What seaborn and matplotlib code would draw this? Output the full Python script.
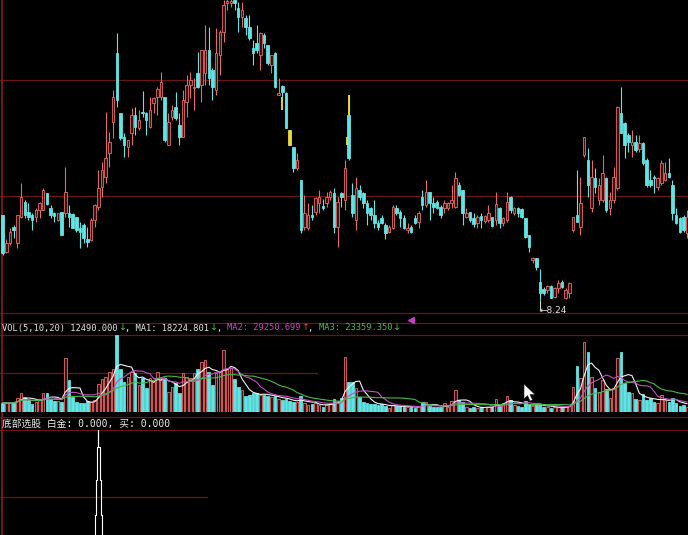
import numpy as np
import pandas as pd
import matplotlib
matplotlib.use("Agg")
import matplotlib.pyplot as plt
from matplotlib.lines import Line2D
from matplotlib.patches import Polygon
import seaborn as sns

# ---------------- data ----------------
open_ = [9.09, 8.72, 8.81, 8.97, 8.81, 9.07, 9.22, 9.12, 9.09, 9.07,
         9.14, 9.14, 9.31, 9.16, 9.11, 9.04, 9.12, 9.11, 9.11, 9.10,
         9.07, 8.96, 8.99, 8.85, 8.84, 9.04, 9.17, 9.37, 9.47, 9.71,
         10.02, 10.71, 10.11, 9.87, 9.77, 9.91, 10.09, 9.96, 10.12, 10.11,
         9.97, 10.21, 10.27, 10.27, 10.27, 9.79, 10.07, 10.17, 9.99, 9.87,
         10.22, 10.39, 10.36, 10.51, 10.39, 10.51, 10.74, 10.54, 10.34, 10.69,
         10.92, 11.21, 11.21, 11.24, 11.16, 11.07, 11.06, 10.97, 10.76, 10.81,
         10.69, 10.89, 10.79, 10.59, 10.71, 10.29, 10.38, 10.31, 9.94, 9.77,
         9.56, 9.44, 8.97, 8.96, 9.09, 9.12, 9.21, 9.18, 9.21, 9.27,
         9.31, 8.97, 9.31, 9.24, 10.09, 9.29, 9.04, 9.34, 9.31, 9.21,
         9.16, 9.09, 9.01, 9.06, 8.99, 8.92, 8.96, 9.16, 9.12, 9.06,
         8.94, 8.97, 9.06, 9.02, 9.27, 9.19, 9.32, 9.21, 9.22, 9.17,
         9.16, 9.16, 9.21, 9.17, 9.39, 9.34, 9.07, 9.12, 9.06, 9.01,
         9.08, 9.03, 9.04, 9.07, 9.04, 9.16, 9.01, 9.04, 9.27, 9.11,
         9.16, 9.15, 9.06, 8.89, 8.64, 8.66, 8.42, 8.35, 8.34, 8.38,
         8.27, 8.36, 8.42, 8.26, 8.31, 8.94, 9.09, 8.97, 9.69, 9.64,
         9.16, 9.46, 9.24, 9.24, 9.46, 9.16, 9.24, 9.36, 10.11, 10.01,
         9.89, 9.79, 9.82, 9.75, 9.81, 9.64, 9.44, 9.47, 9.37, 9.41,
         9.44, 9.51, 9.39, 9.09, 9.06, 9.07, 8.91]
close = [8.71, 8.81, 8.92, 8.94, 9.09, 9.27, 9.09, 9.07, 9.04, 9.14,
         9.21, 9.34, 9.20, 9.09, 9.08, 9.11, 8.89, 9.32, 9.07, 8.96,
         8.94, 8.92, 8.86, 8.82, 9.04, 9.19, 9.36, 9.54, 9.66, 9.82,
         10.27, 10.24, 9.86, 9.79, 9.84, 10.09, 9.97, 10.04, 10.11, 10.04,
         10.14, 10.26, 10.35, 10.42, 9.84, 10.02, 10.14, 10.06, 9.87, 10.24,
         10.39, 10.44, 10.37, 10.37, 10.74, 10.74, 10.46, 10.37, 10.71, 10.92,
         11.19, 11.23, 11.23, 11.21, 11.07, 11.14, 10.97, 10.86, 10.71, 10.74,
         10.91, 10.81, 10.61, 10.69, 10.37, 10.31, 10.32, 9.96, 9.79, 9.56,
         9.64, 8.94, 9.11, 9.09, 9.07, 9.26, 9.27, 9.16, 9.27, 9.32,
         8.97, 9.22, 9.27, 9.56, 9.66, 9.11, 9.36, 9.27, 9.21, 9.11,
         9.09, 9.01, 8.97, 9.01, 8.91, 8.97, 9.17, 9.11, 9.06, 8.96,
         8.96, 8.92, 9.01, 9.11, 9.19, 9.32, 9.21, 9.17, 9.16, 9.09,
         9.21, 9.21, 9.24, 9.46, 9.29, 9.11, 9.11, 9.04, 9.00, 9.07,
         9.04, 9.08, 9.11, 8.98, 9.20, 9.01, 9.06, 9.22, 9.14, 9.16,
         9.11, 9.07, 8.87, 8.77, 8.66, 8.57, 8.31, 8.31, 8.38, 8.26,
         8.36, 8.41, 8.37, 8.34, 8.41, 9.07, 9.02, 9.21, 9.87, 9.39,
         9.47, 9.37, 9.39, 9.51, 9.14, 9.24, 9.47, 10.17, 9.91, 9.79,
         9.82, 9.82, 9.74, 9.81, 9.61, 9.39, 9.39, 9.46, 9.46, 9.61,
         9.51, 9.47, 9.11, 9.01, 8.92, 8.94, 9.07]
high = [9.09, 8.85, 8.96, 8.99, 9.09, 9.41, 9.24, 9.21, 9.11, 9.16,
        9.22, 9.36, 9.31, 9.19, 9.12, 9.11, 9.12, 9.57, 9.19, 9.11,
        9.07, 9.02, 9.01, 8.97, 9.06, 9.20, 9.54, 9.62, 10.12, 9.92,
        10.34, 10.91, 10.11, 9.91, 9.84, 10.16, 10.17, 10.14, 10.33, 10.12,
        10.27, 10.27, 10.37, 10.52, 10.27, 10.11, 10.19, 10.32, 10.11, 10.34,
        10.49, 10.52, 10.46, 10.72, 10.74, 10.99, 10.97, 10.56, 10.96, 10.94,
        11.24, 11.27, 11.26, 11.26, 11.22, 11.22, 11.09, 11.09, 10.84, 10.99,
        10.92, 10.91, 10.79, 10.69, 10.72, 10.46, 10.39, 10.32, 9.94, 9.77,
        9.71, 9.44, 9.29, 9.21, 9.19, 9.27, 9.34, 9.25, 9.32, 9.34,
        9.36, 9.27, 9.32, 9.64, 10.29, 9.41, 9.47, 9.39, 9.32, 9.24,
        9.17, 9.24, 9.04, 9.09, 9.01, 8.99, 9.19, 9.19, 9.14, 9.09,
        9.01, 8.99, 9.09, 9.13, 9.34, 9.44, 9.32, 9.27, 9.24, 9.19,
        9.24, 9.22, 9.39, 9.52, 9.42, 9.34, 9.16, 9.12, 9.11, 9.09,
        9.11, 9.09, 9.19, 9.07, 9.32, 9.17, 9.07, 9.32, 9.28, 9.17,
        9.17, 9.16, 9.06, 8.89, 8.67, 8.66, 8.55, 8.37, 8.39, 8.39,
        8.37, 8.44, 8.44, 8.36, 8.42, 9.07, 9.54, 9.47, 9.87, 9.76,
        9.64, 9.56, 9.46, 9.69, 9.47, 9.32, 9.57, 10.18, 10.37, 10.02,
        9.91, 9.94, 9.89, 9.89, 9.82, 9.66, 9.54, 9.49, 9.47, 9.64,
        9.62, 9.66, 9.44, 9.16, 9.07, 9.09, 9.14]
low = [8.69, 8.71, 8.79, 8.86, 8.76, 9.06, 9.06, 9.04, 8.94, 9.02,
       9.06, 9.14, 9.19, 9.06, 9.02, 9.03, 8.89, 9.07, 8.97, 8.96,
       8.92, 8.76, 8.81, 8.77, 8.83, 8.97, 9.14, 9.27, 9.41, 9.57,
       9.86, 10.17, 9.84, 9.67, 9.67, 9.79, 9.89, 9.94, 10.07, 9.89,
       9.96, 10.11, 10.09, 10.24, 9.82, 9.79, 10.04, 10.04, 9.79, 9.87,
       10.07, 10.26, 10.14, 10.36, 10.22, 10.39, 10.39, 10.24, 10.29, 10.49,
       10.82, 11.14, 11.17, 11.14, 10.92, 10.97, 10.89, 10.84, 10.59, 10.71,
       10.54, 10.76, 10.59, 10.51, 10.36, 10.29, 10.27, 9.96, 9.79, 9.52,
       9.54, 8.91, 8.94, 8.94, 9.04, 9.09, 9.11, 9.14, 9.17, 9.24,
       8.91, 8.77, 9.17, 9.14, 9.64, 9.07, 8.94, 9.24, 9.16, 8.99,
       9.04, 8.96, 8.94, 9.00, 8.85, 8.91, 8.95, 9.09, 8.97, 8.95,
       8.91, 8.91, 9.00, 8.96, 9.14, 9.17, 9.04, 9.11, 9.15, 9.06,
       9.11, 9.14, 9.16, 9.16, 9.28, 8.99, 9.06, 9.02, 8.97, 8.96,
       8.96, 9.01, 9.02, 8.97, 8.99, 8.96, 8.98, 9.02, 9.11, 9.09,
       9.07, 9.06, 8.86, 8.72, 8.61, 8.54, 8.24, 8.29, 8.31, 8.26,
       8.26, 8.31, 8.36, 8.25, 8.26, 8.92, 9.02, 8.89, 9.67, 9.27,
       9.12, 9.31, 9.19, 9.22, 9.12, 9.09, 9.21, 9.34, 9.91, 9.66,
       9.72, 9.67, 9.72, 9.72, 9.59, 9.37, 9.37, 9.31, 9.34, 9.39,
       9.43, 9.46, 9.04, 9.00, 8.91, 8.92, 8.86]
volume = [22500, 22500, 22500, 25000, 35000, 47500, 37500, 30000, 20000, 25000,
          32500, 47500, 47500, 32500, 27500, 27500, 25000, 135000, 80000, 37500,
          25000, 22500, 22500, 27500, 25000, 30000, 70000, 82500, 87500, 100000,
          107500, 192500, 107500, 75000, 87500, 100000, 97500, 67500, 85000, 60000,
          85000, 75000, 100000, 80000, 85000, 50000, 62500, 72500, 47500, 97500,
          87500, 85000, 97500, 107500, 125000, 130000, 100000, 67500, 97500, 100000,
          155000, 107500, 110000, 82500, 62500, 55000, 40000, 42500, 47500, 47500,
          42500, 42500, 40000, 37500, 40000, 32500, 30000, 32500, 27500, 25000,
          25000, 40000, 22500, 17500, 20000, 22500, 17500, 12500, 17500, 22500,
          32500, 27500, 35000, 137500, 75000, 75000, 60000, 37500, 25000, 22500,
          20000, 20000, 17500, 20000, 15000, 10000, 17500, 15000, 15000, 12500,
          12500, 12500, 10000, 15000, 25000, 25000, 15000, 12500, 12500, 12500,
          22500, 12500, 27500, 55000, 30000, 25000, 12500, 10000, 12500, 10000,
          12500, 12500, 12500, 12500, 32500, 17500, 22500, 40000, 30000, 17500,
          15000, 12500, 27500, 17500, 15000, 17500, 20000, 12500, 12500, 10000,
          12500, 12500, 12500, 12500, 15000, 62500, 115000, 85000, 175000, 150000,
          87500, 60000, 50000, 80000, 57500, 35000, 60000, 135000, 150000, 72500,
          50000, 47500, 32500, 30000, 45000, 30000, 35000, 25000, 22500, 42500,
          30000, 25000, 35000, 22500, 15000, 17500, 12490]
ma_windows = [5, 10, 20]
yellow_candles = [78]
yellow_segments = [(76, 10.27, 10.14, 0.0), (94, 10.29, 10.09, 0.0), (94, 9.87, 9.79, -0.35)]
signal_index = 26
signal_levels = [105, 88, 55, 20]
signal_half_widths = [0.0, 0.4, 0.7, 0.95]
vol_header = [("VOL(5,10,20) 12490.000", "text"), ("\u2193", "dn"), (", MA1: 18224.801", "text"),
              ("\u2193", "dn"), (", ", "text"), ("MA2: 29250.699", "ma2"), ("\u2191", "up"),
              (", ", "text"), ("MA3: 23359.350", "ma3"), ("\u2193", "dn")]
ind_header = "底部选股 白金: 0.000, 买: 0.000"

# ---------------- styling ----------------
sns.set_theme(style="dark", rc={"axes.facecolor": "black", "figure.facecolor": "black"})
RED_EDGE, RED_FACE = "#e46a6a", "#3e1010"
CYAN = "#62e4e4"
GRID = "#6b1616"
hdr_colors = {"text": "#e4e4e4", "dn": "#4cc04c", "up": "#e04848",
              "ma2": "#c444c4", "ma3": "#4cbc4c"}
MONO = ["DejaVu Sans Mono", "Noto Sans CJK SC"]

df = pd.DataFrame({"open": open_, "close": close, "high": high, "low": low, "volume": volume})
n = len(df)
df["idx"] = np.arange(n)
up = df["close"] > df["open"]

W, H = 688, 535
fig = plt.figure(figsize=(W / 100, H / 100), dpi=100, facecolor="black")


def px_axes(top, bottom):
    return fig.add_axes([0, 1 - bottom / H, 1, (bottom - top) / H])


axp = px_axes(0, 312)
axv = px_axes(322, 412)
axi = px_axes(418, 535)
for ax in (axp, axv, axi):
    ax.set_facecolor("none")
    ax.set_axis_off()
    ax.set_xlim(-0.734, 186.22)
axp.set_ylim(8.12, 11.24)
axv.set_ylim(0, 225000)
axi.set_ylim(0, 117)


def hline(y, x0=0, x1=W):
    fig.add_artist(Line2D([x0 / W, x1 / W], [1 - y / H, 1 - y / H], color=GRID,
                          lw=0.9, transform=fig.transFigure, zorder=-1))


for y in (80, 196, 313, 323, 335, 417, 430):
    hline(y)
hline(373, 0, 317)
hline(497, 0, 207)
fig.add_artist(Line2D([1.5 / W, 1.5 / W], [0, 1], color="#8a1c1c", lw=1.2,
                      transform=fig.transFigure, zorder=-1))

# ---------------- candles ----------------
face = np.where(up, RED_FACE, CYAN).astype(object)
edge = np.where(up, RED_EDGE, CYAN).astype(object)
for i in yellow_candles:
    face[i] = "#e8dc3a"
    edge[i] = "#e8dc3a"
axp.vlines(df["idx"], df["low"], df["high"], colors=list(edge), lw=0.8, zorder=1)
body_lo = np.minimum(df["open"], df["close"])
body_h = np.maximum(np.abs(df["close"] - df["open"]), 0.012)
axp.bar(df["idx"], body_h, bottom=body_lo, width=0.68, color=list(face),
        edgecolor=list(edge), linewidth=0.6, zorder=2)
for i, a, b, xo in yellow_segments:
    axp.vlines(i + xo, b, a, colors="#f0e040", lw=1.3, zorder=3)

# lowest-price marker
imin = int(df["low"].idxmin())
lmin = df["low"][imin]
axp.vlines(imin, lmin - 0.11, lmin, colors="#d0d0d0", lw=0.8, zorder=3)
axp.text(imin, lmin - 0.11, f"\u2190{lmin:.2f}", color="#dcdcdc", fontsize=6.5,
         family=["DejaVu Sans", "DejaVu Sans Mono"], ha="left", va="center", zorder=4)

# ---------------- volume ----------------
axv.bar(df["idx"], df["volume"], width=0.7, color=list(np.where(up, RED_FACE, CYAN)),
        edgecolor=list(np.where(up, RED_EDGE, CYAN)), linewidth=0.6, zorder=1)
ma_colors = ["#f2f2f2", "#c050c0", "#48b848"]
for w, c in zip(ma_windows, ma_colors):
    ma = df["volume"].rolling(w, min_periods=1).mean()
    sns.lineplot(x=df["idx"], y=ma, ax=axv, color=c, linewidth=0.8, zorder=3)
axv.set_axis_off()

# ---------------- indicator stick (stepped outline) ----------------
lv = signal_levels
hw = signal_half_widths
xs_l, ys_l = [], []
for k in range(len(lv) - 1, -1, -1):
    lower = 0 if k == len(lv) - 1 else lv[k + 1]
    xs_l += [signal_index - hw[k], signal_index - hw[k]]
    ys_l += [lower, lv[k]]
xs_r = [2 * signal_index - x for x in xs_l[::-1]]
ys_r = ys_l[::-1]
axi.plot(xs_l + xs_r, ys_l + ys_r, color="white", lw=0.8)
axi.set_axis_off()

# ---------------- texts ----------------
fs = 6.3
cw = fs * 100 / 72 * 0.602
xpos = 2.0
for s, key in vol_header:
    is_arrow = s in ("\u2193", "\u2191")
    fig.text(xpos / W, 1 - 328 / H, s, color=hdr_colors[key],
             fontsize=6.8 if is_arrow else fs,
             family=["DejaVu Sans"] if is_arrow else MONO, ha="left", va="center")
    xpos += (7.2 if is_arrow else len(s) * cw)

fig.text(2 / W, 1 - 423.5 / H, ind_header, color="#ececec", fontsize=7.0,
         family=MONO, ha="left", va="center")

fig.add_artist(Line2D([411 / W], [1 - 320 / H], marker="<", color="#c040c0",
                      markersize=4.5, linestyle="none", transform=fig.transFigure))
cur = [(524, 384), (524, 399), (527.5, 395.5), (530, 401), (532.5, 400), (530, 394.5), (535, 394.5)]
fig.add_artist(Polygon([(x / W, 1 - y / H) for x, y in cur], closed=True, facecolor="white",
                       edgecolor="#222222", lw=0.4, transform=fig.transFigure, zorder=5))

fig.savefig("out.png", dpi=100, facecolor="black")
